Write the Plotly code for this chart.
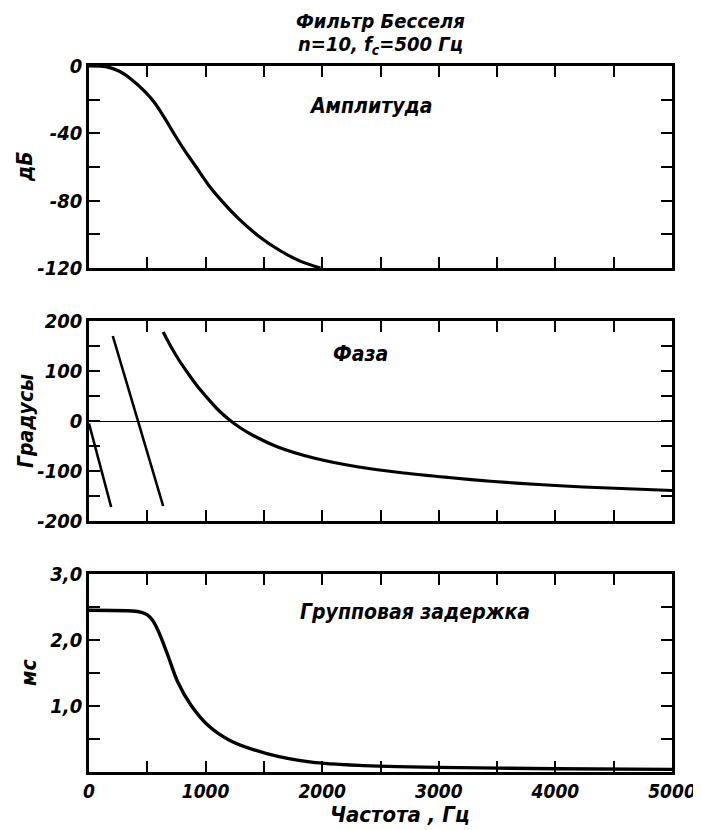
import plotly.graph_objects as go

# ---------------- data ----------------
freq_major = [0, 1000, 2000, 3000, 4000, 5000]
freq_major_labels = ["0", "1000", "2000", "3000", "4000", "5000"]
freq_minor = [500, 1500, 2500, 3500, 4500]

amp_major = [0, -40, -80, -120]
amp_major_labels = ["0", "-40", "-80", "-120"]
amp_minor = [-20, -60, -100]

phase_major = [200, 100, 0, -100, -200]
phase_major_labels = ["200", "100", "0", "-100", "-200"]
phase_minor = [150, 50, -50, -150]

delay_major = [1.0, 2.0, 3.0]
delay_major_labels = ["1,0", "2,0", "3,0"]
delay_minor = [0.5, 1.5, 2.5]

# amplitude response (Hz, dB)
amp_f = [0, 144, 256, 367, 478, 561, 644, 728, 811, 922, 1033, 1144, 1283, 1450, 1644, 1811, 1985]
amp_db = [0, -0.4, -3.0, -8.1, -15.1, -21.7, -30.4, -40.1, -49.2, -60.3, -71.4, -80.6, -90.7,
          -100.8, -109.9, -115.9, -120]

# phase response (Hz, degrees), three wrapped branches
phase1_f = [0, 190]
phase1_deg = [-5, -172]
phase2_f = [204, 636]
phase2_deg = [170, -170]
phase3_f = [636, 700, 771, 850, 925, 1000, 1100, 1200, 1300, 1400, 1619, 1928, 2313, 2699,
            3084, 3470, 3855, 4240, 5000]
phase3_deg = [178, 150, 122, 95, 71, 50, 24, 3, -14, -28, -52, -74, -92, -104,
              -113, -121, -127, -132, -139]

# group delay (Hz, ms)
delay_f = [0, 372, 450, 500, 540, 580, 620, 680, 757, 872, 1025, 1217, 1525, 1909, 2313, 3000,
           4000, 5000]
delay_ms = [2.45, 2.44, 2.42, 2.38, 2.31, 2.19, 2.03, 1.75, 1.38, 1.02, 0.70, 0.47, 0.28, 0.15,
            0.10, 0.07, 0.05, 0.04]

# ---------------- figure ----------------
FONT = "Liberation Sans Narrow, DejaVu Sans Condensed, DejaVu Sans, Liberation Sans, sans-serif"
BLACK = "black"

fig = go.Figure()

fig.add_trace(go.Scatter(x=amp_f, y=amp_db, mode="lines", xaxis="x", yaxis="y",
                         line=dict(color=BLACK, width=3.2, shape="spline", smoothing=0.8),
                         showlegend=False, hoverinfo="skip"))
for fx, fy in [(phase1_f, phase1_deg), (phase2_f, phase2_deg)]:
    fig.add_trace(go.Scatter(x=fx, y=fy, mode="lines", xaxis="x2", yaxis="y2",
                             line=dict(color=BLACK, width=2.6),
                             showlegend=False, hoverinfo="skip"))
fig.add_trace(go.Scatter(x=phase3_f, y=phase3_deg, mode="lines", xaxis="x2", yaxis="y2",
                         line=dict(color=BLACK, width=3.2, shape="spline", smoothing=0.8),
                         showlegend=False, hoverinfo="skip"))
fig.add_trace(go.Scatter(x=delay_f, y=delay_ms, mode="lines", xaxis="x3", yaxis="y3",
                         line=dict(color=BLACK, width=3.4, shape="spline", smoothing=0.8),
                         showlegend=False, hoverinfo="skip"))

tickfont = dict(family=FONT, size=20, color=BLACK, style="italic", weight="bold")
xtickfont = dict(tickfont, size=19)

def minor(vals):
    return dict(tickvals=vals, ticks="inside", ticklen=11, tickwidth=2, tickcolor=BLACK,
                showgrid=False)

def xaxis(show_labels):
    return dict(range=[0, 5000], tickmode="array", tickvals=freq_major,
                ticktext=freq_major_labels, minor=minor(freq_minor),
                showticklabels=show_labels, ticks="inside", ticklen=11, tickwidth=2,
                tickcolor=BLACK, showline=True, linewidth=2.6, linecolor=BLACK,
                mirror="ticks", showgrid=False, zeroline=False, tickfont=xtickfont,
                automargin=False, fixedrange=True)

def yaxis(rng, vals, labels, mvals, domain, anchor, zeroline=False):
    return dict(range=rng, tickmode="array", tickvals=vals, ticktext=labels,
                minor=minor(mvals), domain=domain, anchor=anchor,
                ticks="inside", ticklen=11, tickwidth=2, tickcolor=BLACK,
                showline=True, linewidth=2.6, linecolor=BLACK, mirror="ticks",
                showgrid=False, zeroline=zeroline, zerolinecolor=BLACK, zerolinewidth=1.4,
                tickfont=tickfont, automargin=False, fixedrange=True)

H = 706.0
dom_top = [504 / H, 1.0]
dom_mid = [251 / H, 451 / H]
dom_bot = [0.0, 198 / H]

# page body has an 8px margin, so the figure is 8px smaller than the window
fig.update_layout(
    width=693, height=822,
    margin=dict(l=81, r=29, t=58, b=58, autoexpand=False),
    paper_bgcolor="white", plot_bgcolor="white",
    font=dict(family=FONT, size=20, color=BLACK, style="italic", weight="bold"),
    xaxis=dict(xaxis(False), anchor="y"),
    xaxis2=dict(xaxis(False), anchor="y2"),
    xaxis3=dict(xaxis(True), anchor="y3"),
    yaxis=yaxis([-120, 0], amp_major, amp_major_labels, amp_minor, dom_top, "x"),
    yaxis2=yaxis([-200, 200], phase_major, phase_major_labels, phase_minor, dom_mid, "x2",
                 zeroline=True),
    yaxis3=yaxis([0, 3], delay_major, delay_major_labels, delay_minor, dom_bot, "x3"),
)

afont = dict(family=FONT, size=21, color=BLACK, style="italic", weight="bold")
def px_x(p):
    return (p - 89) / 583.0
def px_y(p):
    return (772 - p) / H

annotations = [
    dict(text="Фильтр Бесселя", x=px_x(380), y=px_y(21), font=dict(afont, size=20)),
    dict(text="n=10, f<sub>c</sub>=500 Гц", x=px_x(380), y=px_y(45), font=dict(afont, size=20)),
    dict(text="Амплитуда", x=px_x(370), y=px_y(106), font=afont),
    dict(text="Фаза", x=px_x(360), y=px_y(354), font=afont),
    dict(text="Групповая задержка", x=px_x(415), y=px_y(612), font=afont),
    dict(text="дБ", x=px_x(25), y=(dom_top[0] + dom_top[1]) / 2, textangle=-90, font=afont),
    dict(text="Градусы", x=px_x(26), y=(dom_mid[0] + dom_mid[1]) / 2, textangle=-90, font=afont),
    dict(text="мс", x=px_x(29), y=(dom_bot[0] + dom_bot[1]) / 2, textangle=-90, font=afont),
    dict(text="Частота , Гц", x=px_x(400), y=px_y(815), font=dict(afont, size=22)),
]
for a in annotations:
    a.update(xref="paper", yref="paper", showarrow=False, xanchor="center", yanchor="middle")
fig.update_layout(annotations=annotations)

fig.write_html("out.html")
